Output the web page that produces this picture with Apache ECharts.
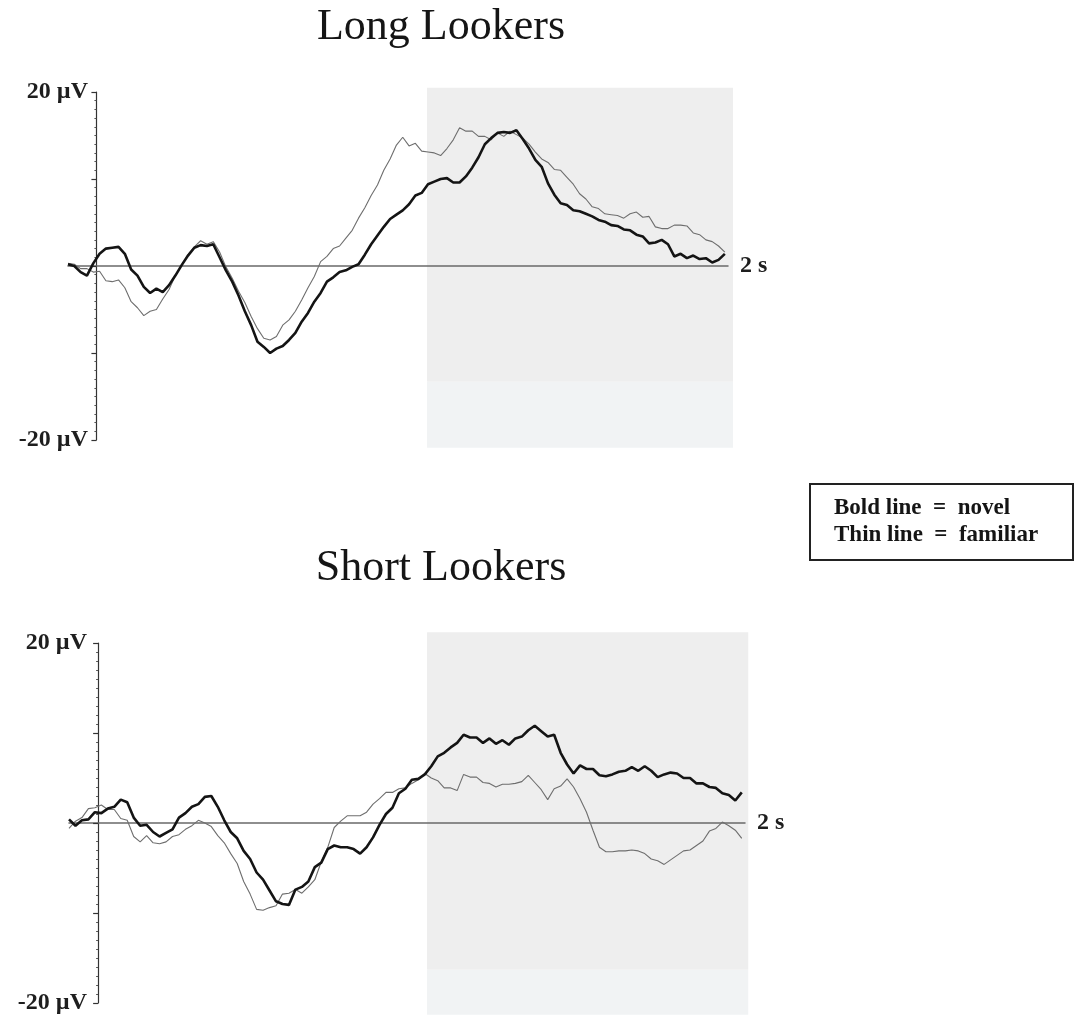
<!DOCTYPE html>
<html><head><meta charset="utf-8">
<script src="https://cdn.jsdelivr.net/npm/echarts@6/dist/echarts.min.js"></script>
<style>html,body{margin:0;padding:0;background:#fff}#c{width:1078px;height:1015px}</style>
</head><body><div id="c"></div>
<script>
// time (s) of each sample
const times = [-0.09,-0.07,-0.05,-0.03,-0.01,0.01,0.03,0.05,0.07,0.09,
0.11,0.13,0.15,0.17,0.19,0.21,0.23,0.25,0.27,0.29,
0.31,0.33,0.35,0.37,0.39,0.41,0.43,0.45,0.47,0.49,
0.51,0.53,0.55,0.57,0.59,0.61,0.63,0.65,0.67,0.69,
0.71,0.73,0.75,0.77,0.79,0.81,0.83,0.85,0.87,0.89,
0.91,0.93,0.95,0.97,0.99,1.01,1.03,1.05,1.07,1.09,
1.11,1.13,1.15,1.17,1.19,1.21,1.23,1.25,1.27,1.29,
1.31,1.33,1.35,1.37,1.39,1.41,1.43,1.45,1.47,1.49,
1.51,1.53,1.55,1.57,1.59,1.61,1.63,1.65,1.67,1.69,
1.71,1.73,1.75,1.77,1.79,1.81,1.83,1.85,1.87,1.89,
1.91,1.93,1.95,1.97,1.99];

// Long Lookers (µV)
const longNovel = [0.2,0.0,-0.7,-1.1,0.3,1.4,2.0,2.1,2.2,1.4,
-0.4,-1.1,-2.4,-3.1,-2.6,-3.0,-2.2,-1.1,0.1,1.2,
2.1,2.4,2.3,2.5,1.0,-0.5,-1.8,-3.4,-5.2,-6.8,
-8.7,-9.3,-10.0,-9.5,-9.2,-8.5,-7.7,-6.4,-5.4,-4.1,
-3.1,-1.8,-1.3,-0.7,-0.5,-0.1,0.2,1.3,2.5,3.5,
4.5,5.4,5.9,6.4,7.1,8.1,8.4,9.4,9.7,10.0,
10.1,9.6,9.6,10.3,11.3,12.5,14.0,14.7,15.3,15.4,
15.3,15.6,14.6,13.5,12.2,11.4,9.5,8.2,7.2,7.0,
6.4,6.3,6.0,5.7,5.3,5.1,4.7,4.6,4.2,4.1,
3.6,3.4,2.6,2.7,3.0,2.5,1.1,1.4,0.9,1.2,
0.8,0.9,0.4,0.7,1.4];
const longFamiliar = [0.3,0.2,-0.3,-0.3,-0.7,-0.6,-1.7,-1.8,-1.6,-2.5,
-4.1,-4.8,-5.7,-5.2,-5.0,-3.8,-2.7,-1.1,0.1,1.3,
2.2,2.9,2.5,2.8,1.6,-0.1,-1.4,-2.9,-4.2,-5.8,
-7.2,-8.3,-8.5,-8.1,-6.8,-6.2,-5.2,-3.9,-2.5,-1.2,
0.5,1.1,2.0,2.3,3.2,4.1,5.5,6.7,8.1,9.3,
11.0,12.3,13.9,14.8,13.8,14.1,13.2,13.1,13.0,12.7,
13.5,14.5,15.9,15.5,15.5,14.9,14.9,14.5,15.3,14.9,
15.5,15.1,14.7,14.0,13.1,12.3,11.9,11.1,11.0,10.2,
9.4,8.3,7.7,6.8,6.6,6.0,5.9,5.8,5.5,6.0,
6.2,5.6,5.7,4.5,4.3,4.3,4.7,4.7,4.6,3.8,
3.6,3.0,2.8,2.3,1.6];

// Short Lookers (µV)
const shortNovel = [0.4,-0.3,0.3,0.4,1.2,1.1,1.6,1.8,2.6,2.3,
0.6,-0.3,-0.2,-1.0,-1.5,-1.1,-0.7,0.6,1.1,1.8,
2.1,2.9,3.0,1.8,0.3,-1.0,-1.7,-3.1,-4.0,-5.5,
-6.3,-7.5,-8.7,-9.0,-9.1,-7.4,-7.1,-6.5,-4.9,-4.4,
-2.9,-2.5,-2.7,-2.7,-2.9,-3.4,-2.7,-1.6,-0.2,1.0,
1.7,3.3,3.8,4.8,4.9,5.4,6.3,7.4,7.8,8.4,
8.9,9.8,9.5,9.5,8.9,9.4,8.8,9.2,8.7,9.4,
9.6,10.3,10.8,10.2,9.6,9.8,7.8,6.5,5.5,6.4,
6.0,6.0,5.3,5.2,5.4,5.7,5.8,6.2,5.8,6.3,
5.8,5.1,5.4,5.6,5.5,5.0,5.0,4.4,4.4,4.0,
3.9,3.3,3.1,2.5,3.4];
const shortFamiliar = [-0.6,0.2,0.6,1.6,1.7,2.0,1.5,1.5,0.5,0.3,
-1.5,-2.1,-1.4,-2.2,-2.3,-2.1,-1.5,-1.3,-0.7,-0.3,
0.3,0.0,-0.4,-1.4,-2.2,-3.4,-4.5,-6.5,-7.9,-9.6,
-9.7,-9.4,-9.2,-7.9,-7.8,-7.4,-7.8,-7.1,-6.3,-4.3,
-2.7,-0.5,0.2,0.8,0.8,0.8,1.2,2.1,2.7,3.4,
3.4,3.8,3.9,4.4,4.8,5.5,5.0,4.7,3.9,3.9,
3.6,5.4,5.1,5.1,4.5,4.4,4.0,4.3,4.3,4.4,
4.6,5.3,4.5,3.7,2.6,3.8,4.1,4.9,4.0,2.7,
1.2,-0.8,-2.7,-3.2,-3.2,-3.1,-3.1,-3.0,-3.1,-3.4,
-4.0,-4.2,-4.6,-4.1,-3.6,-3.1,-3.0,-2.5,-2.0,-0.9,
-0.6,0.1,-0.3,-0.8,-1.7];

// shaded analysis window: [tStart, tEnd, vTop, vBandSplit, vBottom]
const shadeLong = [1.047, 2.016, 20.5, -13.3, -20.9];
const shadeShort = [1.017, 2.01, 21.2, -16.3, -21.3];

const panelTitles = ['Long Lookers', 'Short Lookers'];
const yTickLabels = ['20 µV', '-20 µV'];
const xEndLabel = '2 s';
const legendLines = ['Bold line  =  novel', 'Thin line  =  familiar'];

const SERIF = '"Liberation Serif", "Times New Roman", serif';

function xAx(idx) {
  return {
    type: 'value', gridIndex: idx, min: -0.09, max: 2.0, z: 2,
    name: xEndLabel, nameLocation: 'end', nameGap: 12,
    nameTextStyle: { fontFamily: SERIF, fontWeight: 'bold', fontSize: 24, color: '#1e1e1e' },
    axisLine: { show: true, onZero: true, lineStyle: { color: '#6a6a6a', width: 1.5 } },
    axisTick: { show: false }, axisLabel: { show: false }, splitLine: { show: false }
  };
}
function yAx(idx, labelMargin) {
  return {
    type: 'value', gridIndex: idx, min: -20, max: 20, interval: 10, z: 2,
    axisLine: { show: true, onZero: true, lineStyle: { color: '#333', width: 1.2 } },
    axisTick: { show: true, inside: false, length: 5, lineStyle: { color: '#333', width: 1.2 } },
    minorTick: { show: true, splitNumber: 10, length: 2, lineStyle: { color: '#555', width: 1 } },
    axisLabel: {
      show: true, margin: labelMargin, showMinLabel: true, showMaxLabel: true,
      formatter: v => v === 20 ? yTickLabels[0] : (v === -20 ? yTickLabels[1] : ''),
      fontFamily: SERIF, fontWeight: 'bold', fontSize: 24, color: '#1e1e1e'
    },
    splitLine: { show: false }, minorSplitLine: { show: false }
  };
}
function lineSeries(idx, values, bold) {
  return {
    type: 'line', xAxisIndex: idx, yAxisIndex: idx,
    data: times.map((t, i) => [t, values[i]]),
    showSymbol: false, symbol: 'none', animation: false, silent: true,
    lineStyle: { color: bold ? '#141414' : '#6e6e6e', width: bold ? 2.6 : 1.1 },
    z: bold ? 4 : 3
  };
}
function shadeSeries(idx, s) {
  return {
    type: 'custom', xAxisIndex: idx, yAxisIndex: idx, clip: false, silent: true, z: 0,
    animation: false,
    data: [s],
    encode: { x: [0, 1], y: [2, 3, 4] },
    renderItem: (params, api) => {
      const p1 = api.coord([api.value(0), api.value(2)]);
      const p2 = api.coord([api.value(1), api.value(3)]);
      const p3 = api.coord([api.value(1), api.value(4)]);
      return {
        type: 'group', children: [
          { type: 'rect', shape: { x: p1[0], y: p1[1], width: p2[0] - p1[0], height: p2[1] - p1[1] }, style: { fill: '#eeeeee' } },
          { type: 'rect', shape: { x: p1[0], y: p2[1], width: p3[0] - p1[0], height: p3[1] - p2[1] }, style: { fill: '#f1f3f4' } }
        ]
      };
    }
  };
}

const chart = echarts.init(document.getElementById('c'), null, { renderer: 'canvas' });
chart.setOption({
  backgroundColor: '#ffffff',
  animation: false,
  grid: [
    { left: 68, top: 92, width: 660, height: 348, containLabel: false, outerBoundsMode: 'none' },
    { left: 69, top: 643, width: 676, height: 360, containLabel: false, outerBoundsMode: 'none' }
  ],
  xAxis: [xAx(0), xAx(1)],
  yAxis: [yAx(0, -20), yAx(1, -18)],
  series: [
    shadeSeries(0, shadeLong),
    lineSeries(0, longFamiliar, false),
    lineSeries(0, longNovel, true),
    shadeSeries(1, shadeShort),
    lineSeries(1, shortFamiliar, false),
    lineSeries(1, shortNovel, true)
  ],
  graphic: [
    { type: 'text', x: 441, y: 27, style: { text: panelTitles[0], fontFamily: SERIF, fontSize: 44, fill: '#151515', align: 'center', verticalAlign: 'middle' } },
    { type: 'text', x: 441, y: 568, style: { text: panelTitles[1], fontFamily: SERIF, fontSize: 44, fill: '#151515', align: 'center', verticalAlign: 'middle' } },
    { type: 'rect', shape: { x: 810, y: 484, width: 263, height: 76 }, style: { fill: '#ffffff', stroke: '#222', lineWidth: 2 } },
    { type: 'text', x: 834, y: 522, style: { text: legendLines.join('\n'), fontFamily: SERIF, fontWeight: 'bold', fontSize: 23, lineHeight: 27, fill: '#151515', align: 'left', verticalAlign: 'middle' } }
  ]
});
</script>
</body></html>
